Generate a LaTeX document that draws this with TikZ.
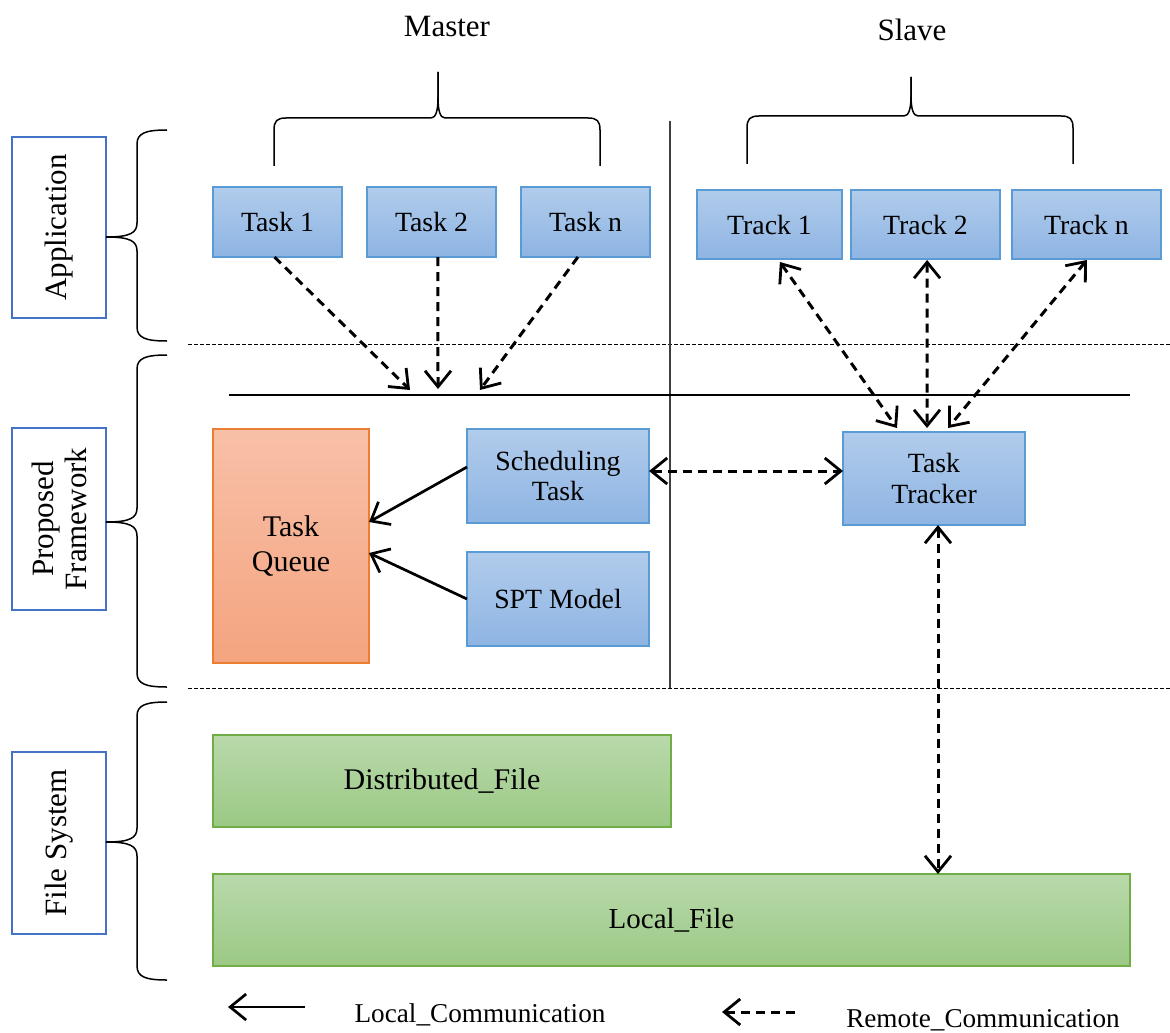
\documentclass[tikz,border=0pt]{standalone}
\usepackage{fontspec}
\setmainfont{Liberation Serif}
\usetikzlibrary{arrows.meta,calc}

\definecolor{blueTop}{HTML}{B1CCEB}
\definecolor{blueBot}{HTML}{8EB4E3}
\definecolor{blueEdge}{HTML}{5B9BD5}
\definecolor{orangeTop}{HTML}{F8C0A8}
\definecolor{orangeBot}{HTML}{F4A47F}
\definecolor{orangeEdge}{HTML}{ED7D31}
\definecolor{greenTop}{HTML}{B9D9AB}
\definecolor{greenBot}{HTML}{9BC985}
\definecolor{greenEdge}{HTML}{70AD47}
\definecolor{labelEdge}{HTML}{4472C4}
\definecolor{divider}{HTML}{404040}

% box given by its corners (x1,y1)-(x2,y2) in picture units
\newcommand\panel[7]{%
  \node[#6, minimum width={(#4-#2)*0.5pt}, minimum height={(#5-#3)*0.5pt}]
    (#1) at ({(#2+#4)/2},{(#3+#5)/2}) {#7};}

% vertical curly brace on the left: top y, cusp y, bottom y
\newcommand\sidebrace[3]{%
  \draw[brace] (167,#1) .. controls (146,#1) and (137,#1+3) .. (137,#1+14)
    -- (137,#2-14) .. controls (137,#2-4) and (130,#2) .. (106,#2);
  \draw[brace] (106,#2) .. controls (130,#2) and (137,#2+4) .. (137,#2+14)
    -- (137,#3-14) .. controls (137,#3-3) and (146,#3) .. (167,#3);}

% horizontal curly brace opening downwards:
% left x, right x, cusp x, cusp tip y, bar y, foot y
\newcommand\topbrace[6]{%
  \draw[brace] (#1,#6) -- (#1,#5+12) .. controls (#1,#5+3) and (#1+3,#5) .. (#1+12,#5)
    -- (#3-7,#5) .. controls (#3-2,#5) and (#3,#5-8) .. (#3,#5-20) -- (#3,#4);
  \draw[brace] (#3,#4) -- (#3,#5-20) .. controls (#3,#5-8) and (#3+2,#5) .. (#3+7,#5)
    -- (#2-12,#5) .. controls (#2-3,#5) and (#2,#5+3) .. (#2,#5+12) -- (#2,#6);}

\begin{document}
\begin{tikzpicture}[x=0.5pt,y=-0.5pt,
  every node/.style={inner sep=0pt, outer sep=0pt},
  boxfont/.style={font=\fontsize{13.9}{15.4}\selectfont},
  bluebox/.style={draw=blueEdge, line width=0.6pt, top color=blueTop,
    bottom color=blueBot, align=center, boxfont},
  orangebox/.style={draw=orangeEdge, line width=0.6pt, top color=orangeTop,
    bottom color=orangeBot, align=center,
    font=\fontsize{15}{17.5}\selectfont},
  greenbox/.style={draw=greenEdge, line width=0.6pt, top color=greenTop,
    bottom color=greenBot, align=center},
  labelbox/.style={draw=labelEdge, line width=1pt, fill=white, align=center},
  labeltext/.style={rotate=90, align=center,
    font=\fontsize{15.5}{16.5}\selectfont},
  headtext/.style={font=\fontsize{15.5}{18}\selectfont},
  legendtext/.style={font=\fontsize{13.6}{16}\selectfont},
  brace/.style={line width=0.75pt, black},
  sepline/.style={line width=0.5pt, dash pattern=on 2pt off 1pt},
  remote/.style={line width=1.5pt, dash pattern=on 4.5pt off 3pt,
    -{Straight Barb[length=8pt,width=13pt,line width=1.4pt]}},
  remoteboth/.style={line width=1.5pt, dash pattern=on 4.5pt off 3pt,
    {Straight Barb[length=8pt,width=13pt,line width=1.4pt]}-{Straight Barb[length=8pt,width=13pt,line width=1.4pt]}},
  local/.style={line width=1.35pt,
    -{Straight Barb[length=8pt,width=13pt,line width=1.35pt]}}
]
\useasboundingbox[fill=white] (0,0) rectangle (1170,1032);

% column headings and braces
\node[headtext] (master) at (447,27) {Master};
\node[headtext] (slave) at (912,30) {Slave};
\topbrace{274}{600}{438}{72}{118}{166}
\topbrace{747}{1073}{911}{77}{116}{164}

% layer labels with their braces
\panel{lapp}{12}{137}{106}{318}{labelbox}{}
\node[labeltext] (tapp) at (lapp.center) {Application};
\panel{lfw}{12}{428}{106}{610}{labelbox}{}
\node[labeltext] (tfw) at (lfw.center) {Proposed\\Framework};
\panel{lfs}{12}{752}{106}{934}{labelbox}{}
\node[labeltext] (tfs) at (lfs.center) {File System};
\sidebrace{130}{237}{341}
\sidebrace{355}{522}{687}
\sidebrace{702}{842}{980}

% layer separators and master/slave divider
\draw[sepline] (188,344) -- (1170,344);
\draw[sepline] (188,688) -- (1170,688);
\draw[line width=0.75pt, divider] (670,121) -- (670,688);
\draw[line width=0.75pt] (229,395) -- (1130,395);

% application tasks and tracks
\panel{task1}{213}{187}{342}{257}{bluebox}{Task 1}
\panel{task2}{367}{187}{496}{257}{bluebox}{Task 2}
\panel{taskn}{521}{187}{650}{257}{bluebox}{Task n}
\panel{track1}{697}{190}{842}{259}{bluebox}{Track 1}
\panel{track2}{851}{190}{1000}{259}{bluebox}{Track 2}
\panel{trackn}{1012}{190}{1161}{259}{bluebox}{Track n}

% framework components
\panel{queue}{213}{429}{369}{663}{orangebox}{Task\\Queue}
\panel{sched}{467}{429}{649}{523}{bluebox}{Scheduling\\Task}
\panel{spt}{467}{552}{649}{646}{bluebox}{SPT Model}
\panel{tracker}{843}{432}{1025}{525}{bluebox}{Task\\Tracker}

% file system
\panel{dfile}{213}{735}{671}{827}{greenbox, font=\fontsize{15}{17}\selectfont}{Distributed\_File}
\panel{lfile}{213}{874}{1130}{966}{greenbox, font=\fontsize{14.5}{17}\selectfont}{Local\_File}

% task submissions onto the framework bus
\coordinate (busA) at (410,390);
\coordinate (busB) at (438,389);
\coordinate (busC) at (480,390);
\draw[remote] ([xshift=-1.5pt]task1.south) -- (busA);
\draw[remote] ([xshift=3.2pt]task2.south) -- (busB);
\draw[remote] ([xshift=-3.8pt]taskn.south) -- (busC);

% tracks <-> task tracker
\draw[remoteboth] ([xshift=5.2pt,yshift=-1.5pt]track1.south) -- ([xshift=-18.5pt,yshift=2pt]tracker.north);
\draw[remoteboth] ([xshift=0.8pt,yshift=-0.5pt]track2.south) -- ([xshift=-3.5pt,yshift=2pt]tracker.north);
\draw[remoteboth] ([xshift=0.2pt,yshift=-0.5pt]trackn.south) -- ([xshift=7pt,yshift=2pt]tracker.north);

% local communication into the queue
\draw[local] ([yshift=4.5pt]sched.west) -- ([yshift=12pt]queue.east);
\draw[local] (spt.west) -- ([yshift=-3.5pt]queue.east);

% scheduler <-> tracker, tracker <-> local file
\draw[remoteboth] ([yshift=2.5pt]sched.east) -- ([yshift=2.5pt]sched.east -| tracker.west);
\draw[remoteboth] ([xshift=2pt]tracker.south) -- ([xshift=2pt]tracker.south |- lfile.north);

% legend
\coordinate (lgL1) at (305,1007);
\coordinate (lgL2) at (228,1007);
\draw[local] (lgL1) -- (lgL2);
\node[legendtext] (lgLt) at (480,1015) {Local\_Communication};
\coordinate (lgR1) at (795,1012);
\coordinate (lgR2) at (722,1012);
\draw[remote] (lgR1) -- (lgR2);
\node[legendtext] (lgRt) at (983,1020) {Remote\_Communication};
\end{tikzpicture}
\end{document}
